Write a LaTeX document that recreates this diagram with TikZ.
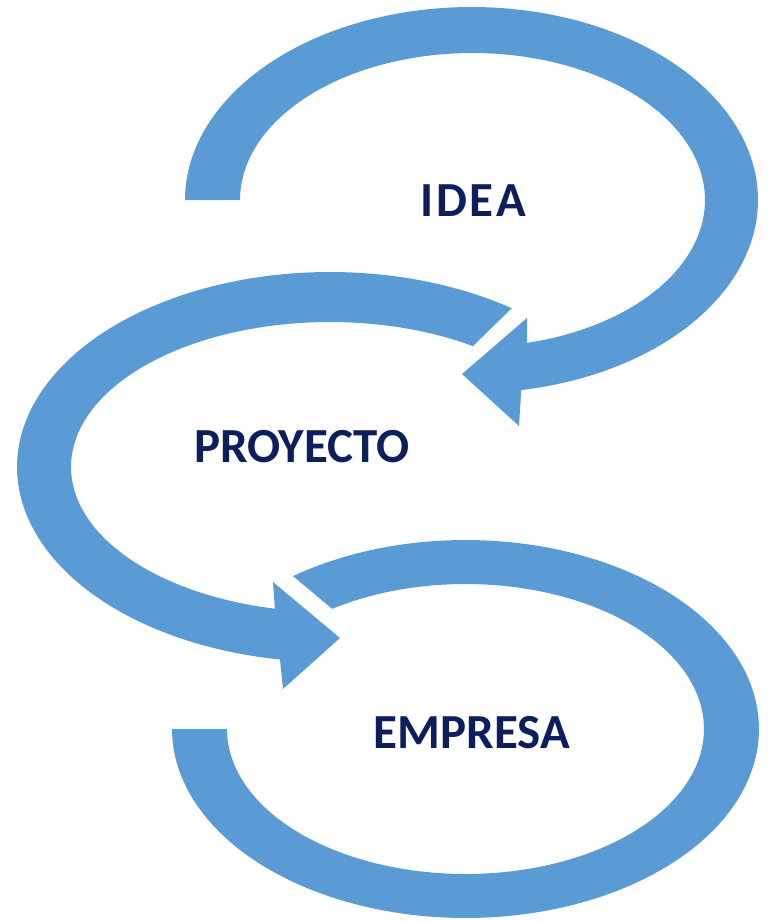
\documentclass[tikz,border=0pt]{standalone}
\usepackage{fontspec}
\setmainfont{Carlito}
\definecolor{bandblue}{HTML}{5B9BD5}
\definecolor{navytext}{HTML}{0C1F5C}
\tikzset{
  band/.style={fill=bandblue, draw=none},
  lbl/.style={text=navytext, font=\fontsize{49}{50}\selectfont\bfseries, inner sep=0pt}
}
\begin{document}
\begin{tikzpicture}[x=1pt,y=-1pt]
\useasboundingbox (0,0) rectangle (769,922);
% arrow 1 : IDEA -> PROYECTO
\coordinate (tipA) at (462,374);
\coordinate (barbA1) at (519,426);
\coordinate (barbA2) at (527,318);
\fill[band] plot[domain=180:440,samples=150] ({471.5+286.5*cos(\x)},{200+193*sin(\x)})
  -- (barbA1) -- (tipA) -- (barbA2)
  -- plot[domain=436.4:180,samples=150] ({472.5+232.5*cos(\x)},{200+147*sin(\x)}) -- cycle;
% arrow 2 : PROYECTO -> EMPRESA
\coordinate (tipB) at (340,638);
\coordinate (barbB1) at (283,689);
\coordinate (barbB2) at (273,582);
\fill[band] plot[domain=305.5:99.2,samples=150] ({330+313*cos(\x)},{467+195*sin(\x)})
  -- (barbB1) -- (tipB) -- (barbB2)
  -- plot[domain=102.3:303.5,samples=150] ({330+259*cos(\x)},{467+145*sin(\x)}) -- cycle;
% arrow 3 : EMPRESA loop
\fill[band] plot[domain=234:540,samples=150] ({465.5+293.5*cos(\x)},{729+189*sin(\x)})
  -- plot[domain=540:236,samples=150] ({465.5+238.5*cos(\x)},{729+145*sin(\x)}) -- cycle;
% labels
\node[lbl] (idea) at (473,201) {\addfontfeature{LetterSpace=6}IDEA};
\node[lbl] (proyecto) at (302,447) {PROYECTO};
\node[lbl] (empresa) at (472,733) {EMPRESA};
\end{tikzpicture}
\end{document}
